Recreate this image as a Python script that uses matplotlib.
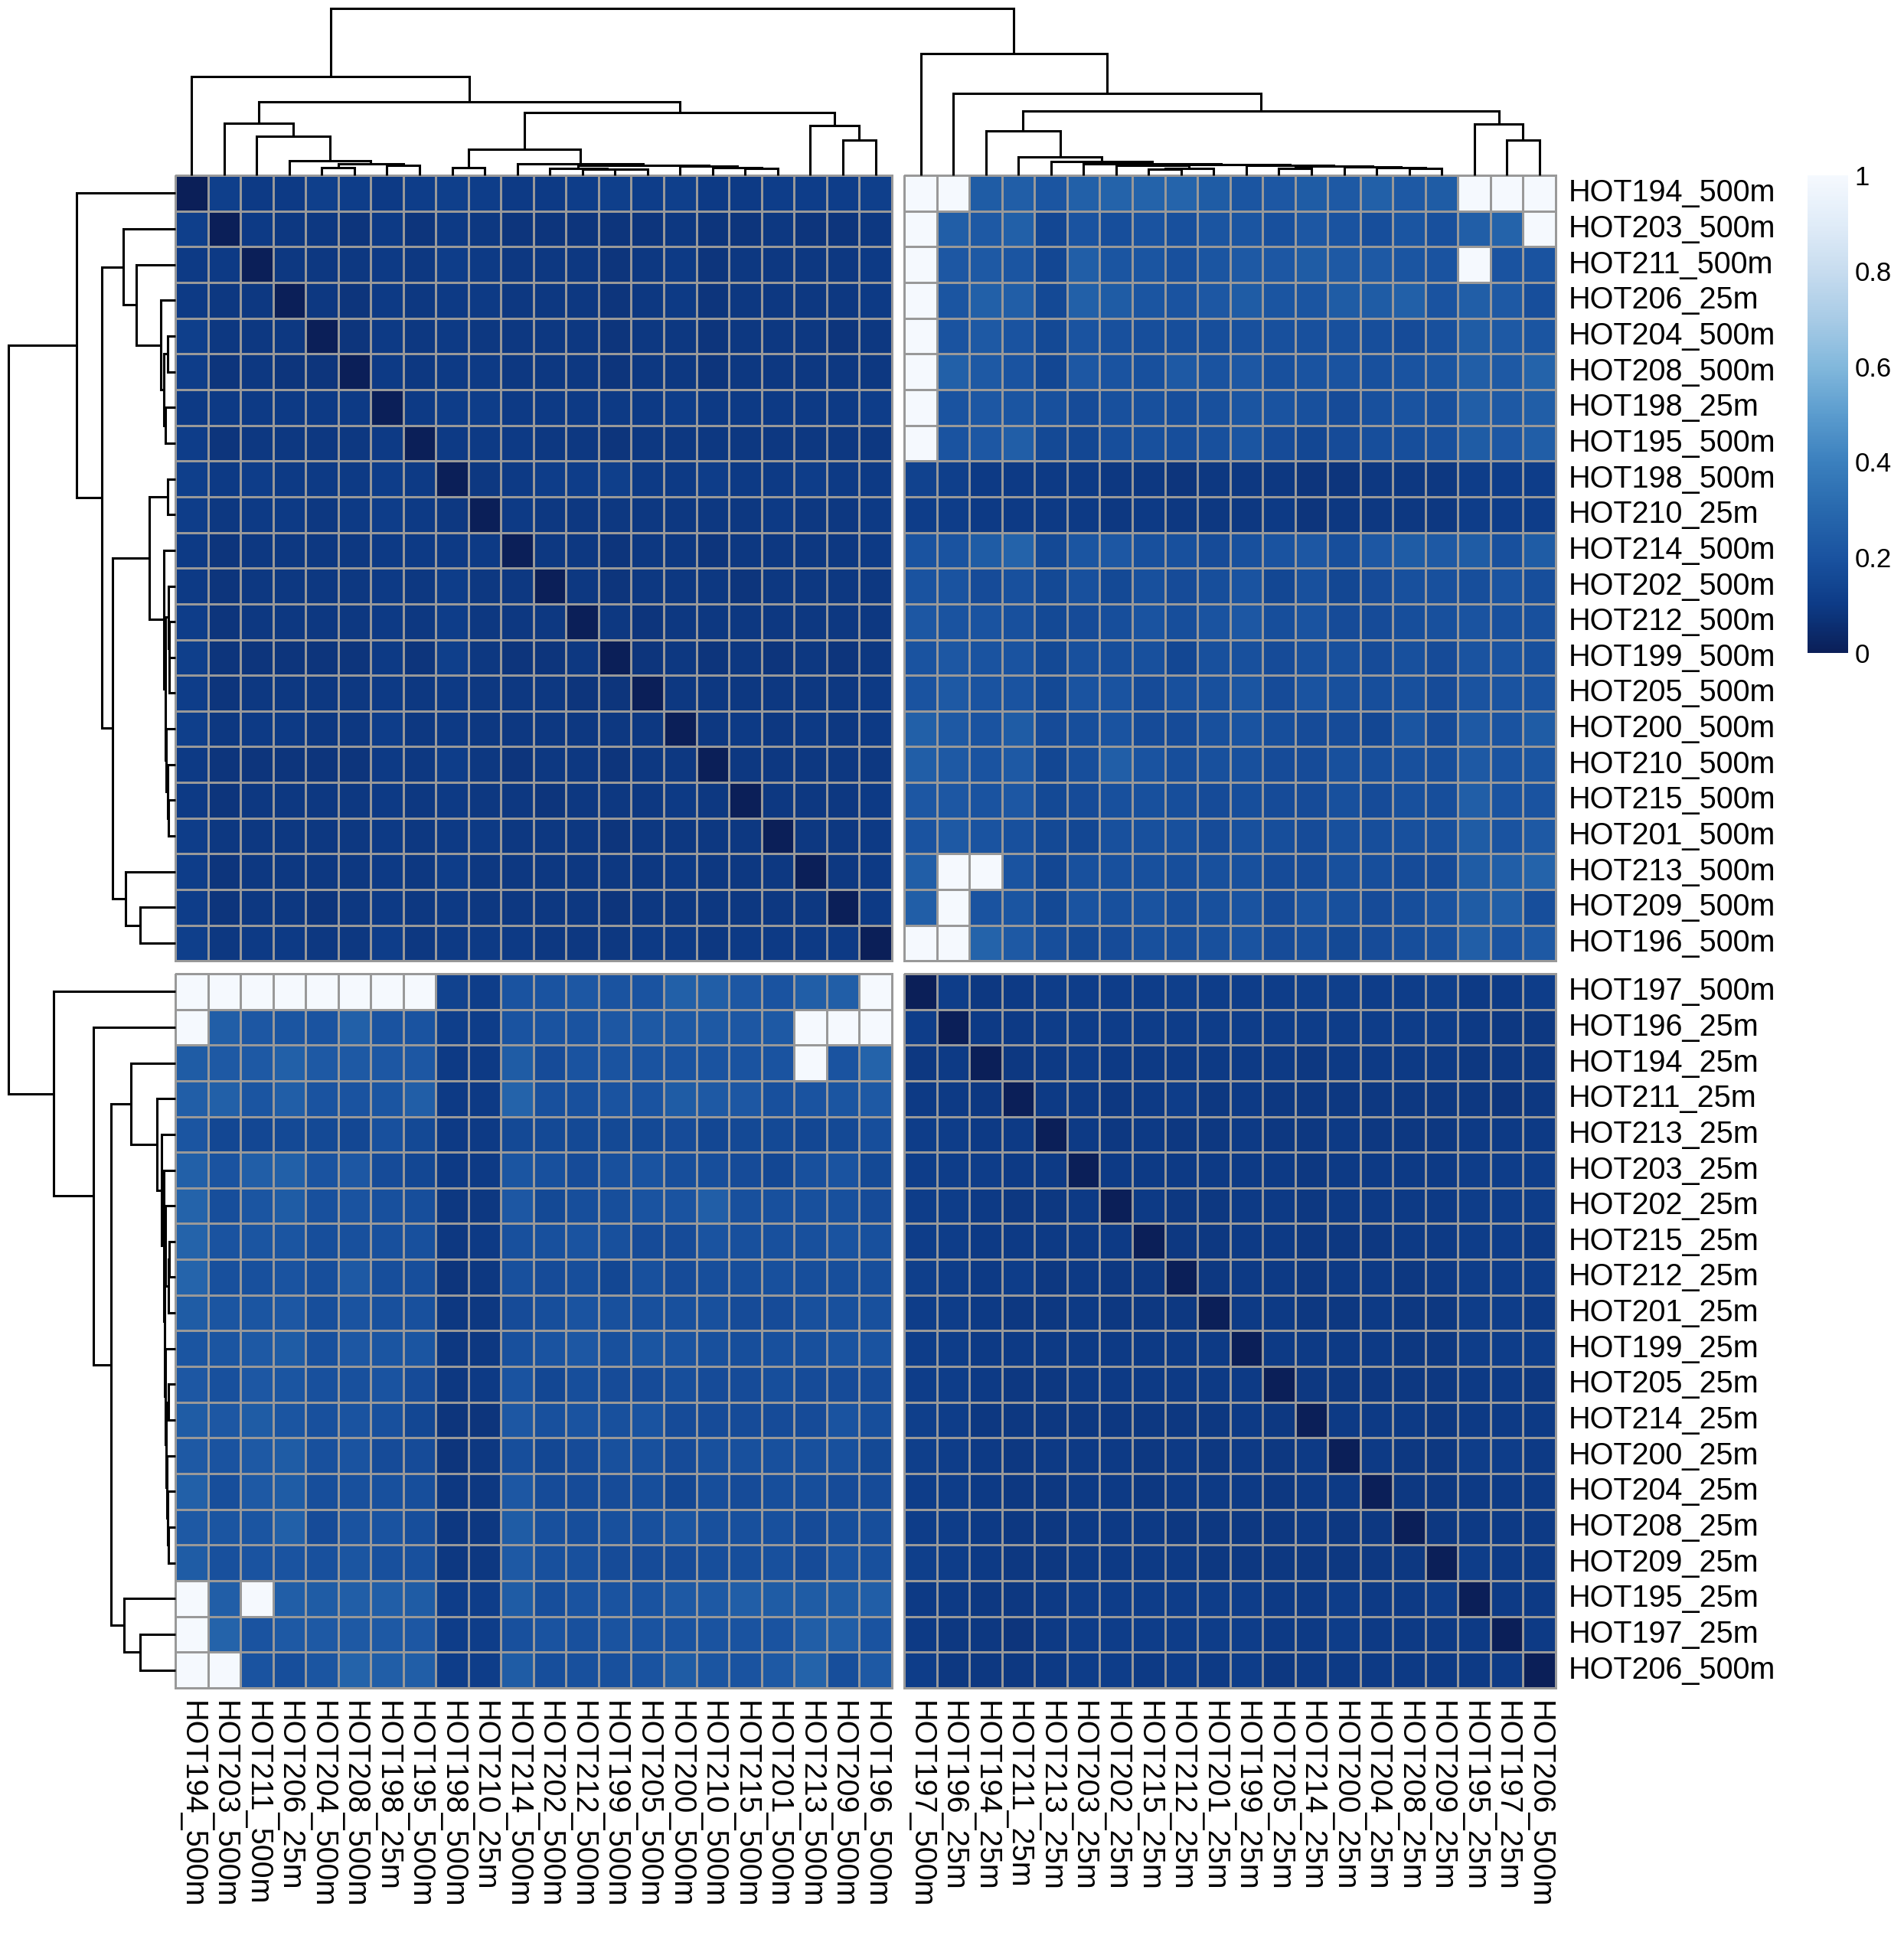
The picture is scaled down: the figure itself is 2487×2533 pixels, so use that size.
import numpy as np
import matplotlib
matplotlib.use("Agg")
import matplotlib.pyplot as plt
import matplotlib.colorbar as mcolorbar
from matplotlib.colors import LinearSegmentedColormap, Normalize
from matplotlib.transforms import blended_transform_factory

plt.rcParams["font.family"] = ["Liberation Sans", "DejaVu Sans"]

# ---------------- data ----------------
SAMPLES = [
    "HOT194_500m", "HOT203_500m", "HOT211_500m", "HOT206_25m", "HOT204_500m",
    "HOT208_500m", "HOT198_25m", "HOT195_500m", "HOT198_500m", "HOT210_25m",
    "HOT214_500m", "HOT202_500m", "HOT212_500m", "HOT199_500m", "HOT205_500m",
    "HOT200_500m", "HOT210_500m", "HOT215_500m", "HOT201_500m", "HOT213_500m",
    "HOT209_500m", "HOT196_500m",
    "HOT197_500m", "HOT196_25m", "HOT194_25m", "HOT211_25m", "HOT213_25m",
    "HOT203_25m", "HOT202_25m", "HOT215_25m", "HOT212_25m", "HOT201_25m",
    "HOT199_25m", "HOT205_25m", "HOT214_25m", "HOT200_25m", "HOT204_25m",
    "HOT208_25m", "HOT209_25m", "HOT195_25m", "HOT197_25m", "HOT206_500m",
]
N_FIRST = 22  # size of first cluster (cutree = 2)

# upper triangle of cluster-1 block (row i, columns i+1..)
TL_UPPER = [
    [.12, .10, .10, .12, .11, .10, .11, .12, .11, .10, .10, .11, .12, .11, .12, .10, .10, .11, .11, .11, .12],
    [.10, .09, .09, .08, .10, .08, .10, .09, .08, .08, .08, .08, .08, .09, .08, .08, .09, .08, .08, .09],
    [.09, .09, .09, .10, .09, .11, .10, .09, .09, .09, .08, .09, .10, .08, .09, .09, .09, .09, .10],
    [.09, .08, .10, .09, .10, .10, .09, .09, .09, .08, .09, .10, .08, .09, .09, .09, .09, .10],
    [.08, .10, .09, .10, .09, .09, .09, .09, .08, .09, .09, .08, .09, .09, .09, .08, .09],
    [.10, .09, .10, .10, .09, .09, .09, .08, .09, .09, .08, .09, .09, .09, .09, .09],
    [.10, .11, .11, .10, .10, .10, .10, .10, .11, .10, .10, .10, .10, .10, .11],
    [.10, .10, .10, .09, .09, .08, .09, .09, .09, .09, .09, .09, .09, .09],
    [.09, .10, .11, .11, .12, .10, .10, .11, .10, .10, .11, .10, .10],
    [.10, .09, .09, .09, .09, .09, .09, .09, .10, .09, .09, .10],
    [.09, .09, .08, .09, .09, .08, .09, .09, .09, .09, .10],
    [.09, .08, .09, .09, .09, .08, .09, .09, .09, .09],
    [.09, .08, .09, .09, .09, .09, .09, .09, .09],
    [.08, .09, .08, .09, .08, .09, .08, .09],
    [.09, .09, .09, .09, .09, .09, .10],
    [.09, .10, .09, .10, .09, .10],
    [.09, .09, .09, .09, .09],
    [.09, .09, .09, .10],
    [.09, .09, .10],
    [.09, .10],
    [.10],
]

# upper triangle of cluster-2 block
BR_UPPER = [
    [.11, .09, .10, .11, .11, .11, .11, .12, .11, .11, .11, .12, .12, .11, .11, .12, .10, .10, .11],
    [.10, .10, .11, .11, .11, .11, .11, .11, .11, .11, .11, .11, .11, .11, .11, .10, .09, .09],
    [.09, .10, .11, .10, .10, .10, .10, .10, .10, .09, .10, .10, .10, .10, .09, .09, .09],
    [.10, .10, .09, .10, .11, .09, .10, .09, .09, .09, .09, .09, .09, .09, .08, .09],
    [.10, .09, .10, .09, .09, .10, .09, .09, .10, .09, .09, .09, .10, .10, .10],
    [.10, .10, .10, .10, .10, .10, .09, .10, .10, .10, .10, .11, .11, .11],
    [.10, .09, .09, .10, .10, .09, .10, .10, .10, .10, .11, .11, .11],
    [.09, .09, .10, .10, .09, .09, .09, .10, .10, .11, .11, .10],
    [.09, .10, .10, .09, .10, .10, .09, .10, .11, .11, .11],
    [.10, .10, .09, .09, .10, .09, .09, .11, .11, .10],
    [.10, .10, .10, .10, .09, .09, .11, .11, .11],
    [.09, .09, .09, .09, .09, .10, .10, .09],
    [.10, .10, .10, .09, .10, .10, .10],
    [.10, .09, .09, .11, .11, .10],
    [.09, .09, .10, .10, .10],
    [.09, .10, .10, .10],
    [.11, .10, .10],
    [.10, .10],
    [.10],
]

# cluster-1 rows x cluster-2 columns (the other off-diagonal block is its transpose)
TR_BLOCK = [
    [1.0, 1.0, .24, .25, .21, .26, .27, .27, .28, .24, .21, .22, .24, .23, .26, .23, .24, 1.0, 1.0, 1.0],
    [1.0, .25, .23, .26, .15, .20, .18, .20, .19, .21, .21, .19, .22, .20, .18, .21, .19, .25, .27, 1.0],
    [1.0, .22, .23, .21, .15, .25, .21, .21, .19, .21, .23, .22, .24, .23, .23, .21, .20, 1.0, .20, .20],
    [1.0, .21, .26, .25, .16, .26, .24, .21, .20, .22, .24, .21, .21, .24, .24, .26, .20, .25, .23, .18],
    [1.0, .20, .23, .20, .16, .20, .19, .18, .18, .18, .19, .19, .19, .19, .18, .17, .19, .24, .23, .21],
    [1.0, .26, .23, .20, .15, .22, .20, .19, .23, .20, .22, .19, .20, .20, .19, .20, .21, .25, .23, .27],
    [1.0, .20, .22, .21, .19, .17, .19, .19, .18, .19, .21, .20, .19, .17, .19, .20, .19, .25, .23, .25],
    [1.0, .20, .22, .25, .16, .15, .18, .19, .18, .19, .21, .17, .15, .17, .18, .18, .19, .24, .22, .25],
    [.13, .12, .10, .10, .10, .10, .09, .09, .08, .09, .09, .09, .08, .08, .09, .09, .09, .11, .11, .11],
    [.11, .11, .10, .10, .10, .10, .09, .10, .09, .09, .09, .10, .08, .09, .09, .09, .09, .11, .11, .11],
    [.20, .20, .24, .27, .16, .21, .22, .19, .19, .17, .19, .20, .22, .18, .22, .24, .23, .24, .19, .24],
    [.20, .20, .17, .19, .16, .19, .16, .19, .17, .18, .20, .15, .19, .15, .17, .19, .19, .18, .20, .18],
    [.22, .20, .20, .19, .16, .17, .18, .20, .18, .20, .22, .18, .20, .17, .17, .18, .19, .20, .19, .19],
    [.20, .22, .20, .20, .16, .19, .18, .19, .15, .19, .19, .17, .19, .19, .17, .19, .17, .20, .20, .19],
    [.20, .23, .20, .20, .16, .20, .20, .17, .19, .19, .21, .17, .20, .19, .18, .19, .17, .20, .20, .20],
    [.26, .23, .20, .24, .17, .18, .20, .17, .17, .19, .20, .18, .17, .17, .15, .21, .17, .23, .20, .24],
    [.25, .23, .20, .23, .15, .18, .25, .20, .18, .19, .19, .17, .17, .19, .18, .19, .18, .23, .20, .21],
    [.22, .22, .20, .22, .16, .17, .19, .19, .18, .17, .18, .17, .17, .19, .17, .19, .18, .25, .20, .20],
    [.20, .23, .20, .19, .16, .15, .19, .19, .19, .17, .19, .18, .17, .19, .18, .19, .19, .24, .20, .23],
    [.25, 1.0, 1.0, .20, .15, .19, .19, .19, .18, .19, .19, .17, .17, .19, .18, .17, .17, .24, .25, .27],
    [.25, 1.0, .20, .21, .16, .20, .19, .20, .18, .19, .20, .17, .20, .19, .17, .18, .20, .24, .25, .18],
    [1.0, 1.0, .27, .23, .18, .16, .17, .19, .18, .19, .20, .17, .18, .16, .17, .18, .19, .25, .20, .23],
]

# hierarchical merges: (node, child_a, child_b, height relative to root)
MERGES = [
    ("L1", "HOT204_500m", "HOT208_500m", 0.048),
    ("L2", "HOT198_25m", "HOT195_500m", 0.058),
    ("L3", "L1", "L2", 0.071),
    ("L4", "HOT206_25m", "L3", 0.089),
    ("L5", "HOT211_500m", "L4", 0.232),
    ("L6", "HOT203_500m", "L5", 0.312),
    ("L7", "HOT198_500m", "HOT210_25m", 0.046),
    ("L8", "HOT199_500m", "HOT205_500m", 0.035),
    ("L9", "HOT212_500m", "L8", 0.038),
    ("L10", "HOT202_500m", "L9", 0.043),
    ("L11", "HOT215_500m", "HOT201_500m", 0.043),
    ("L12", "HOT210_500m", "L11", 0.047),
    ("L13", "HOT200_500m", "L12", 0.054),
    ("L14", "L10", "L13", 0.058),
    ("L15", "HOT214_500m", "L14", 0.071),
    ("L16", "L7", "L15", 0.158),
    ("L17", "HOT209_500m", "HOT196_500m", 0.212),
    ("L18", "HOT213_500m", "L17", 0.296),
    ("L19", "L16", "L18", 0.378),
    ("L20", "L6", "L19", 0.439),
    ("L21", "HOT194_500m", "L20", 0.591),
    ("R1", "HOT215_25m", "HOT212_25m", 0.035),
    ("R2", "R1", "HOT201_25m", 0.040),
    ("R3", "HOT202_25m", "R2", 0.058),
    ("R4", "HOT205_25m", "HOT214_25m", 0.040),
    ("R5", "HOT208_25m", "HOT209_25m", 0.042),
    ("R6", "HOT204_25m", "R5", 0.047),
    ("R7", "HOT200_25m", "R6", 0.050),
    ("R8", "R4", "R7", 0.054),
    ("R9", "HOT199_25m", "R8", 0.060),
    ("R10", "R3", "R9", 0.066),
    ("R11", "HOT203_25m", "R10", 0.069),
    ("R12", "HOT213_25m", "R11", 0.084),
    ("R13", "HOT211_25m", "R12", 0.109),
    ("R14", "HOT194_25m", "R13", 0.266),
    ("R15", "HOT197_25m", "HOT206_500m", 0.212),
    ("R16", "HOT195_25m", "R15", 0.309),
    ("R17", "R14", "R16", 0.384),
    ("R18", "HOT196_25m", "R17", 0.493),
    ("R19", "HOT197_500m", "R18", 0.730),
    ("ROOT", "L21", "R19", 1.000),
]

LEGEND_TICKS = [0, 0.2, 0.4, 0.6, 0.8, 1.0]
LEGEND_LABELS = ["0", "0.2", "0.4", "0.6", "0.8", "1"]

# ---------------- style ----------------
PALETTE = ["#0b1f58", "#0d3b86", "#1a53a0", "#2869ae", "#3b80be", "#5b9cce",
           "#82b8dc", "#a8cbe6", "#c7dcef", "#e0ecf8", "#f5f9fe"]
CMAP = LinearSegmentedColormap.from_list("blues_rev", PALETTE, N=256)
NORM = Normalize(vmin=0, vmax=1)
BORDER = "#999999"
FS = 28.5
FS_LEGEND = 25

W, H, DPI = 2487, 2533, 100
HM_L, HM_R, HM_T, HM_B = 229, 2032, 229, 2205
GAP = 16.5

# ---------------- assemble matrix ----------------
n = len(SAMPLES)
M = np.zeros((n, n))
for i, row in enumerate(TL_UPPER):
    for k, v in enumerate(row):
        j = i + 1 + k
        M[i, j] = M[j, i] = v
for i, row in enumerate(BR_UPPER):
    for k, v in enumerate(row):
        a, b = N_FIRST + i, N_FIRST + i + 1 + k
        M[a, b] = M[b, a] = v
TR = np.array(TR_BLOCK)
M[:N_FIRST, N_FIRST:] = TR
M[N_FIRST:, :N_FIRST] = TR.T

fig = plt.figure(figsize=(W / DPI, H / DPI), dpi=DPI)


def px_axes(x0, y0, x1, y1):
    return fig.add_axes([x0 / W, 1 - y1 / H, (x1 - x0) / W, (y1 - y0) / H])


cell_w = (HM_R - HM_L - GAP) / n
cell_h = (HM_B - HM_T - GAP) / n
gx, gy = GAP / cell_w, GAP / cell_h

col_edges = [np.arange(N_FIRST + 1), N_FIRST + gx + np.arange(n - N_FIRST + 1)]
row_edges = [np.arange(N_FIRST + 1), N_FIRST + gy + np.arange(n - N_FIRST + 1)]
spans = [(0, N_FIRST), (N_FIRST, n)]

col_pos = np.array([i + 0.5 + (gx if i >= N_FIRST else 0) for i in range(n)])
row_pos = np.array([i + 0.5 + (gy if i >= N_FIRST else 0) for i in range(n)])

# ---------------- heatmap ----------------
ax = px_axes(HM_L, HM_T, HM_R, HM_B)
for (r0, r1), re in zip(spans, row_edges):
    for (c0, c1), ce in zip(spans, col_edges):
        ax.pcolormesh(ce, re, M[r0:r1, c0:c1], cmap=CMAP, norm=NORM,
                      edgecolors=BORDER, linewidth=1.9, clip_on=False)
ax.set_xlim(0, n + gx)
ax.set_ylim(n + gy, 0)
ax.axis("off")

tr_row = blended_transform_factory(ax.transAxes, ax.transData)
for lab, y in zip(SAMPLES, row_pos):
    ax.text(1 + 17 / (HM_R - HM_L), y, lab, transform=tr_row,
            ha="left", va="center", fontsize=FS)
tr_col = blended_transform_factory(ax.transData, ax.transAxes)
for lab, x in zip(SAMPLES, col_pos):
    ax.text(x, -17 / (HM_B - HM_T), lab, transform=tr_col, rotation=270,
            ha="center", va="top", fontsize=FS)


# ---------------- dendrograms ----------------
def draw_dendro(axd, leaf_pos, vertical):
    pos = {lab: (p, 0.0) for lab, p in zip(SAMPLES, leaf_pos)}
    for node, a, b, h in MERGES:
        xa, ha = pos[a]
        xb, hb = pos[b]
        xs, hs = [xa, xa, xb, xb], [ha, h, h, hb]
        if vertical:
            axd.plot(xs, hs, color="black", lw=2.2, clip_on=False,
                     solid_joinstyle="miter", solid_capstyle="butt")
        else:
            axd.plot(hs, xs, color="black", lw=2.2, clip_on=False,
                     solid_joinstyle="miter", solid_capstyle="butt")
        pos[node] = ((xa + xb) / 2, h)


ax_top = px_axes(HM_L, 11, HM_R, HM_T)
draw_dendro(ax_top, col_pos, vertical=True)
ax_top.set_xlim(0, n + gx)
ax_top.set_ylim(0, 1.0)
ax_top.axis("off")

ax_left = px_axes(11, HM_T, HM_L, HM_B)
draw_dendro(ax_left, row_pos, vertical=False)
ax_left.set_ylim(n + gy, 0)
ax_left.set_xlim(1.0, 0)
ax_left.axis("off")

# ---------------- legend ----------------
cax = px_axes(2361, 229, 2414, 853)
cb = mcolorbar.ColorbarBase(cax, cmap=CMAP, norm=NORM, orientation="vertical",
                            ticks=LEGEND_TICKS)
cb.set_ticklabels(LEGEND_LABELS)
cb.outline.set_visible(False)
cax.tick_params(length=0, labelsize=FS_LEGEND, pad=6)

fig.savefig("out.png", dpi=DPI)
